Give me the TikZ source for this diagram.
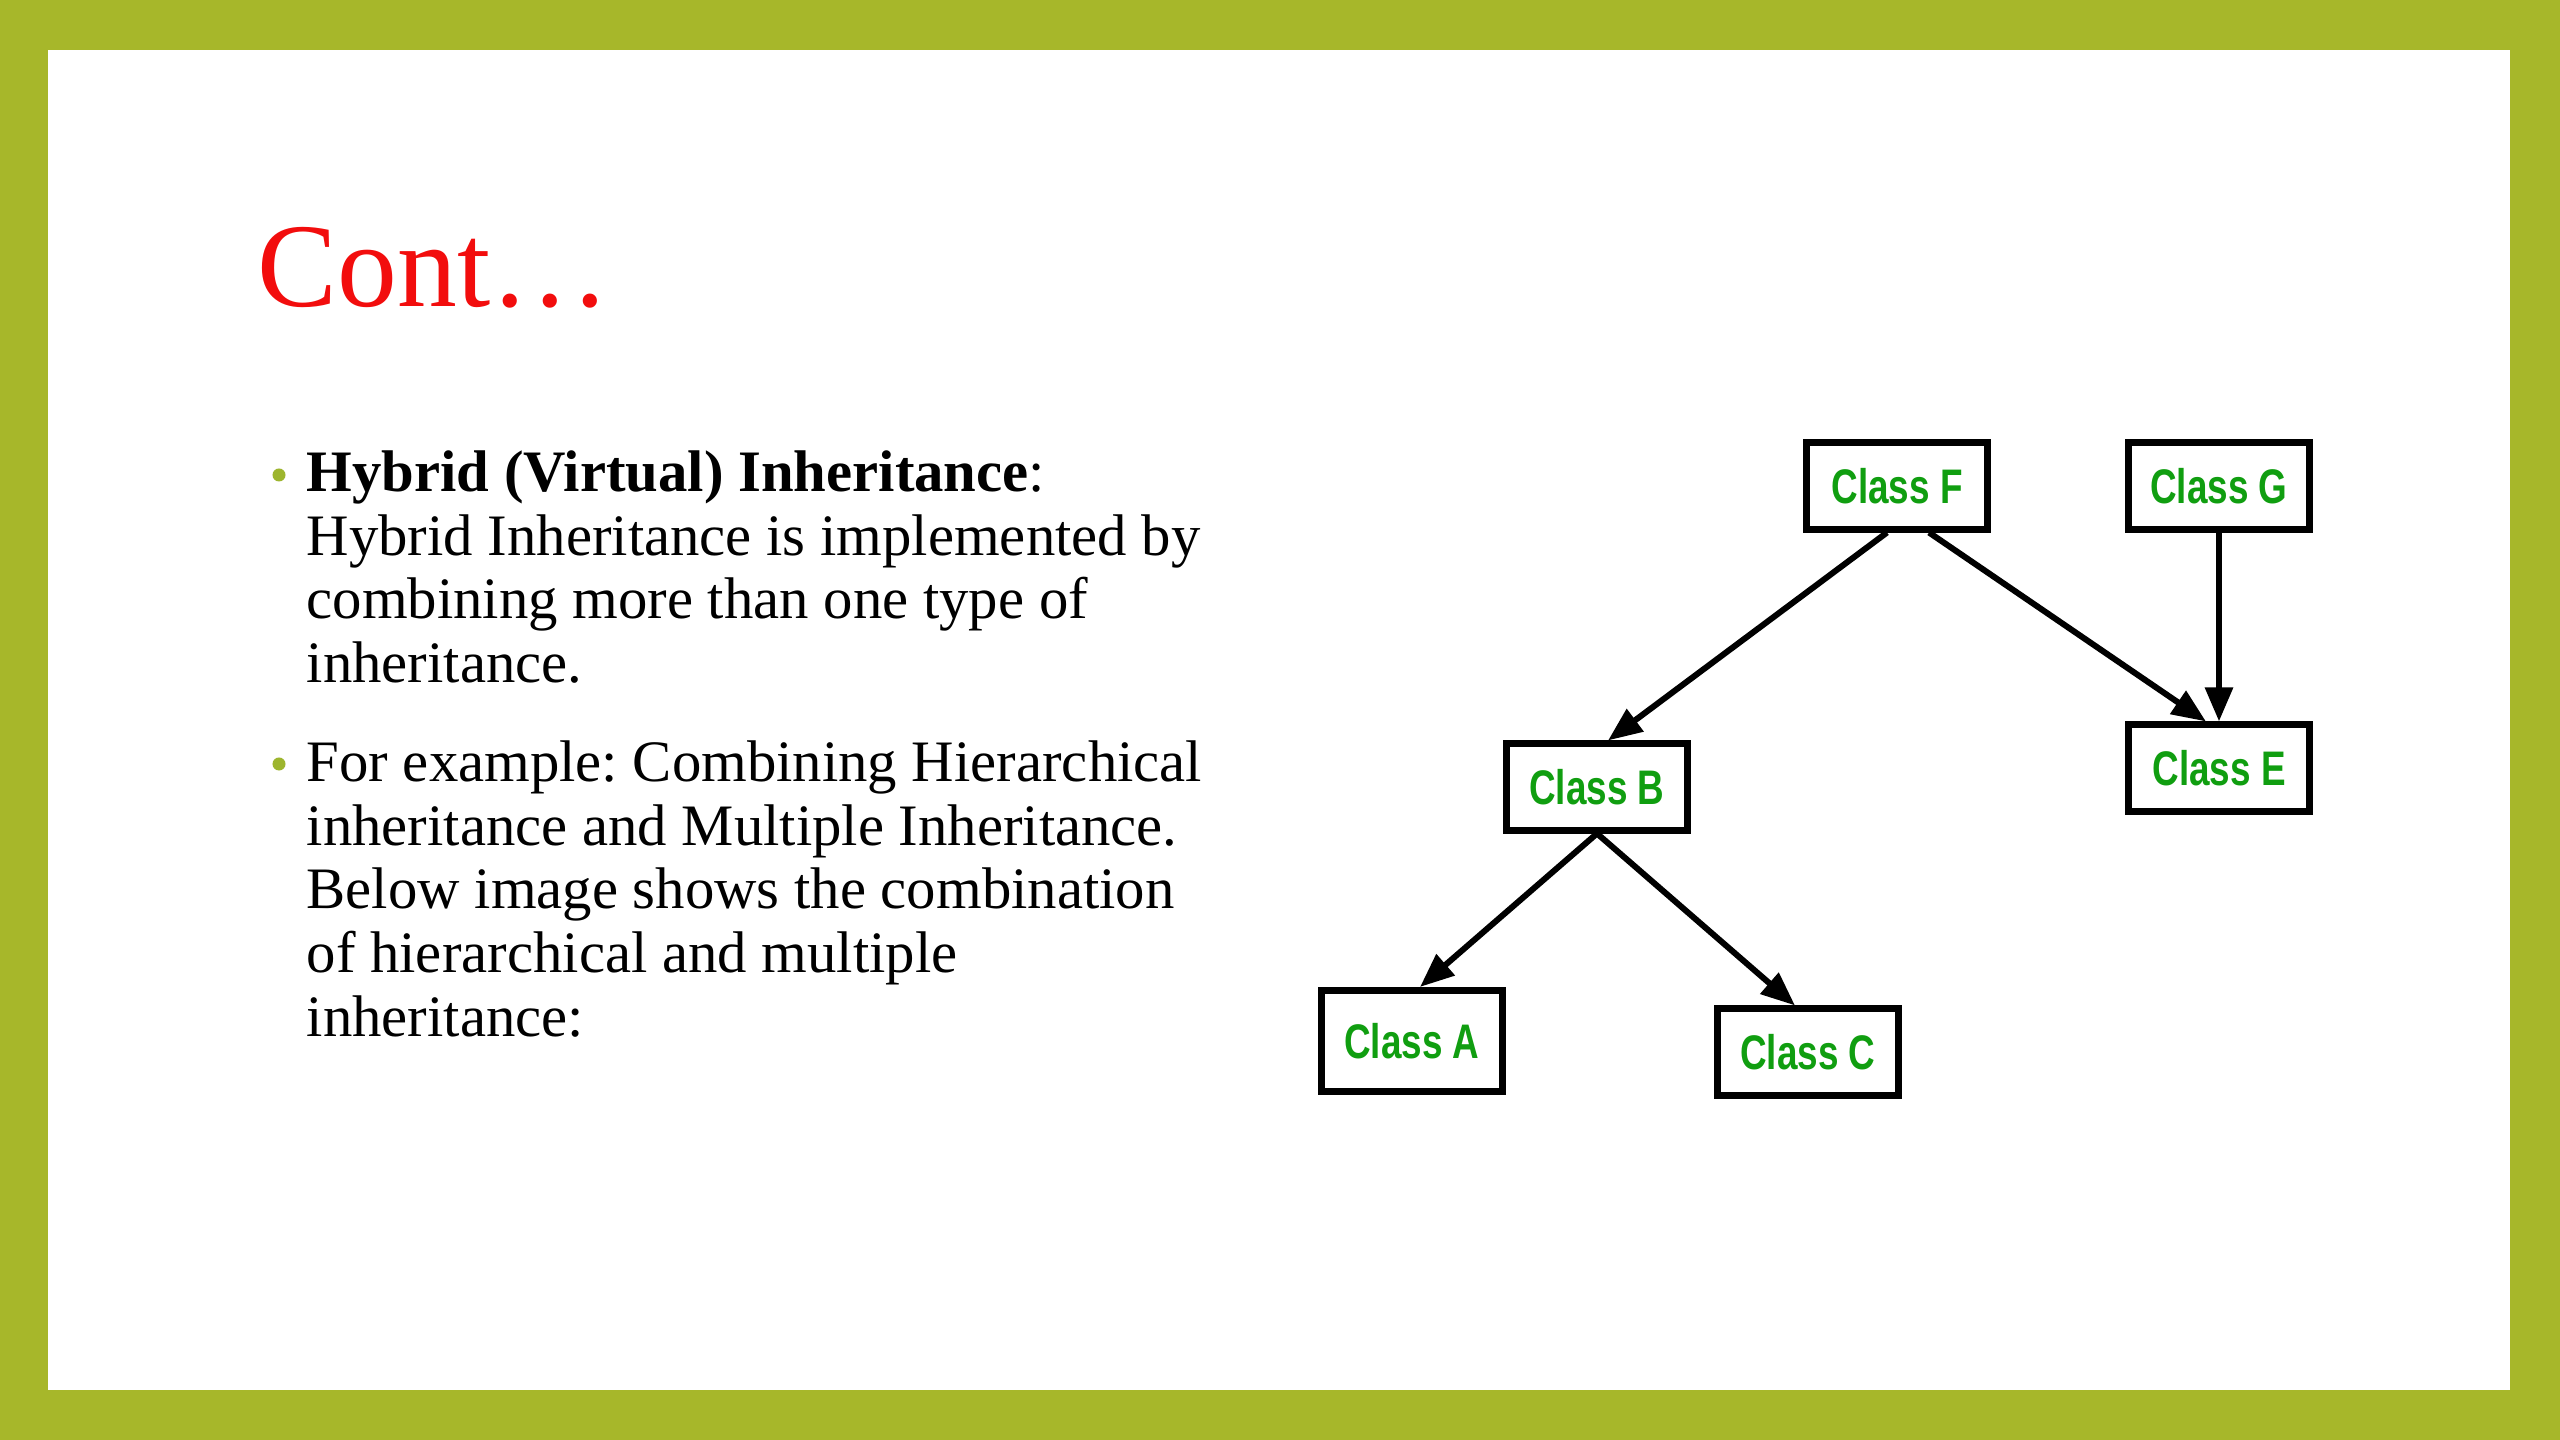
\documentclass[tikz,border=0pt]{standalone}
\usepackage{fontspec}
\setmainfont{Liberation Serif}
\newfontfamily\classfont[FakeStretch=0.76]{Liberation Sans}
\usetikzlibrary{arrows.meta}
\definecolor{FrameGreen}{HTML}{A7B72A}
\definecolor{BulletGreen}{HTML}{9DB52E}
\definecolor{ClassGreen}{HTML}{109E10}
\definecolor{TitleRed}{HTML}{F20D0D}
\frenchspacing

\begin{document}
\begin{tikzpicture}[
        x=0.01cm, y=-0.01cm,
        cls/.style={
            draw=black,
            line width=0.07cm,
            fill=white,
            minimum width=1.81cm,
            minimum height=0.86cm,
            inner sep=0pt,
            text=ClassGreen,
            font=\classfont\bfseries\fontsize{13.8}{16}\selectfont
        },
        inh/.style={-{Triangle[length=0.34cm, width=0.27cm]}, line width=0.06cm, draw=black},
        body/.style={anchor=north west, align=left, inner sep=0pt, font=\fontsize{16.7}{18.1}\selectfont},
        dot/.style={fill=BulletGreen}
    ]
        \useasboundingbox (0,0) rectangle (2560,1440);
        \fill[FrameGreen] (0,0) rectangle (2560,1440);
        \fill[white] (48,50) rectangle (2510,1390);

        % slide text
        \node[anchor=base west, inner sep=0pt, text=TitleRed, font=\fontsize{34}{40}\selectfont] (title) at (257,307) {Cont…};

        \fill[dot] (279,475) circle (0.065cm);
        \node[body] (para1) at (306,450) {\textbf{Hybrid (Virtual) Inheritance}:\\
            Hybrid Inheritance is implemented by\\
            combining more than one type of\\
            inheritance.};
        \fill[dot] (279,764) circle (0.065cm);
        \node[body] (para2) at (306,740) {For example: Combining Hierarchical\\
            inheritance and Multiple Inheritance.\\
            Below image shows the combination\\
            of hierarchical and multiple\\
            inheritance:};

        % class diagram
        \node[cls] (clsF) at (1897,486) {Class F};
        \node[cls] (clsG) at (2219,486) {Class G};
        \node[cls] (clsE) at (2219,768) {Class E};
        \node[cls] (clsB) at (1597,787) {Class B};
        \node[cls, minimum height=1.01cm] (clsA) at (1412,1041) {Class A};
        \node[cls] (clsC) at (1808,1052) {Class C};

        \draw[inh] ([xshift=-0.1cm]clsF.south) -- ([xshift=0.11cm]clsB.north);
        \draw[inh] ([xshift=0.32cm]clsF.south) -- ([xshift=-0.13cm]clsE.north);
        \draw[inh] (clsG.south) -- (clsE.north);
        \draw[inh] (clsB.south) -- ([xshift=0.08cm]clsA.north);
        \draw[inh] (clsB.south) -- ([xshift=-0.13cm]clsC.north);
    \end{tikzpicture}
\end{document}
